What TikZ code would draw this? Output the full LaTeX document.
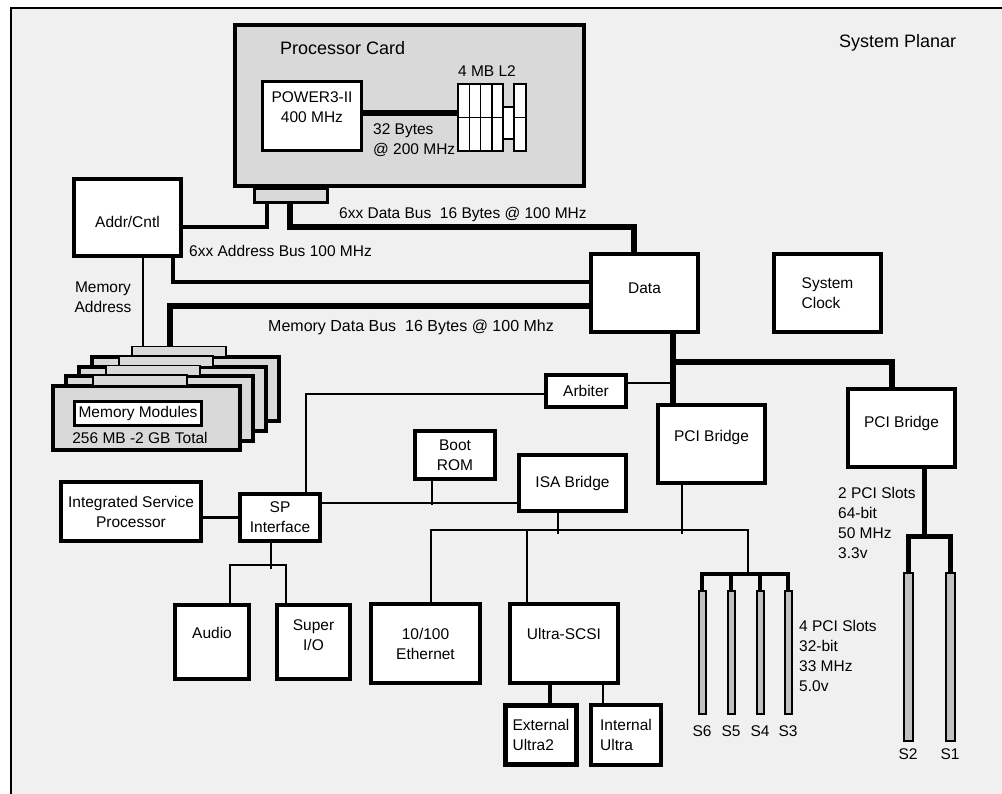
\documentclass[tikz,border=0pt]{standalone}
\usepackage{fontspec}
\setmainfont{Liberation Sans}

\definecolor{planarGray}{HTML}{F0F0F0}
\definecolor{cardGray}{HTML}{D9D9D9}
\definecolor{slotGray}{HTML}{C0C0C0}

\tikzstyle{unitBox}=[draw=black, line width=4pt, fill=white, align=center, inner sep=0pt]
\tikzstyle{labelText}=[inner sep=0pt, align=left]
\tikzstyle{thinBus}=[line width=2.5pt]
\tikzstyle{midBus}=[line width=3.5pt]
\tikzstyle{thickBus}=[line width=6.5pt]
\tikzstyle{slotBar}=[draw=black, line width=2pt, fill=slotGray, inner sep=0pt]
\tikzstyle{memBoardStyle}=[draw=black, line width=4pt, fill=cardGray, inner sep=0pt]
\tikzstyle{memTabStyle}=[draw=black, line width=1.5pt, fill=cardGray, inner sep=0pt]

\begin{document}
\begin{tikzpicture}[x=1pt, y=-1pt, font=\fontsize{15.5}{20}\selectfont]

	\useasboundingbox (0,0) rectangle (1002,794);
	\fill[white] (0,0) rectangle (1002,794);
	\draw[line width=2pt, fill=planarGray] (11,8) rectangle (1014,806);
	\node(planarLabel) at (839,43) [labelText, anchor=west, font=\fontsize{18}{20}\selectfont] {System Planar};

	% Prozessorkarte
	\node(card) at (409.5,105.5) [unitBox, fill=cardGray, minimum width=349pt, minimum height=161pt] {};
	\node(cardTab) at (291,195.5) [unitBox, line width=3pt, fill=cardGray, minimum width=73pt, minimum height=14pt] {};
	\node(cardTitle) at (280,48) [labelText, anchor=west, font=\fontsize{18}{20}\selectfont] {Processor Card};
	\node(cpu) at (312,116) [unitBox, line width=3pt, minimum width=99pt, minimum height=69pt,
		label={[yshift=8.5pt, align=center]center:POWER3-II\\400 MHz}] {};
	\node(l2) at (492,117.5) [inner sep=0pt, minimum width=68pt, minimum height=67pt] {};
	\node(l2Label) at (487,71) {4 MB L2};
	\begin{scope}[line width=1.5pt]
		\draw[fill=white] (458,84) rectangle (503,151);
		\foreach \cx in {469.25,480.5,491.75}
			\draw (\cx,84) -- (\cx,151);
		\draw (458,117.5) -- (503,117.5);
		\draw[fill=white] (503,107) rectangle (514,139);
		\draw[fill=white] (514,84) rectangle (526,151);
		\draw (514,117.5) -- (526,117.5);
	\end{scope}
	\draw[thickBus] ([yshift=3pt]cpu.east) -- ([yshift=4.5pt]l2.west);
	\node(l2BusLabel) at (373,140) [labelText, anchor=west] {32 Bytes\\@ 200 MHz};

	% Adressen und Daten
	\node(addr) at (127.5,217.5) [unitBox, minimum width=107pt, minimum height=77pt,
		label={[yshift=-4.5pt]center:Addr/Cntl}] {};
	\node(data) at (644.5,293) [unitBox, minimum width=107pt, minimum height=78pt,
		label={[yshift=5pt]center:Data}] {};
	\node(clock) at (827.5,293) [unitBox, align=left, minimum width=107pt, minimum height=78pt] {System\\Clock};

	\draw[midBus] ([yshift=-9.5pt]addr.east) -| ([xshift=-24pt]cardTab.south);
	\draw[thickBus] ([xshift=-1pt]cardTab.south) |- ++(344,23) -- ([xshift=-10.5pt]data.north);
	\draw[midBus] ([xshift=45.5pt]addr.south) |- ([yshift=11pt]data.west);
	\node(dataBusLabel) at (339,214) [labelText, anchor=west] {6xx Data Bus\ \ 16 Bytes @ 100 MHz};
	\node(addrBusLabel) at (189,251) [labelText, anchor=west] {6xx Address Bus 100 MHz};

	% Speichermodule
	\foreach \i in {3,2,1,0}
		{
			\node(memBoard\i) at (146.5+13*\i, 418-9.5*\i) [memBoardStyle, minimum width=187pt, minimum height=64pt] {};
			\node(memTab\i) at (140+13*\i, 380.5-9.5*\i) [memTabStyle, minimum width=94pt, minimum height=10.5pt] {};
		}
	\node(memLabel) at (138,413.5) [unitBox, line width=3pt, minimum width=127pt, minimum height=24pt] {Memory Modules};
	\node(memSize) at (140,438) {256 MB -2 GB Total};

	\draw[thinBus] ([xshift=15.5pt]addr.south) -- ([xshift=-36pt]memTab3.north);
	\draw[thickBus] ([yshift=-13pt]data.west) -| ([xshift=-9pt]memTab3.north);
	\node(memAddrLabel) at (103,297) [labelText, align=center] {Memory\\Address};
	\node(memBusLabel) at (268,327) [labelText, anchor=west, font=\fontsize{16}{20}\selectfont] {Memory Data Bus\ \ 16 Bytes @ 100 Mhz};

	% PCI
	\node(arbiter) at (586,391) [unitBox, minimum width=80pt, minimum height=32pt] {Arbiter};
	\node(pciA) at (711.5,444) [unitBox, minimum width=107pt, minimum height=78pt,
		label={[yshift=7pt]center:PCI Bridge}] {};
	\node(pciB) at (901.5,428) [unitBox, minimum width=107pt, minimum height=78pt,
		label={[yshift=5pt]center:PCI Bridge}] {};

	\draw[thickBus] ([xshift=28.5pt]data.south) -- ([xshift=-38.5pt]pciA.north);
	\draw[thickBus] ([xshift=28.5pt]data.south) ++(0,28) -| ([xshift=-9.5pt]pciB.north);
	\draw[thinBus] ([yshift=8pt]arbiter.east) -- ++(45,0);

	% Steckplaetze
	\foreach \s/\sx in {6/702,5/731,4/760,3/788}
		{
			\node(slot\s) at (\sx,652.5) [slotBar, minimum width=7pt, minimum height=123pt] {};
			\node(slotLabel\s) at (\sx,731) {S\s};
		}
	\foreach \s/\sx in {2/908,1/950}
		{
			\node(slot\s) at (\sx,657) [slotBar, minimum width=9pt, minimum height=168pt] {};
			\node(slotLabel\s) at (\sx,754) {S\s};
		}
	\draw[midBus] (slot6.north) -- ++(0,-16) -| (slot3.north);
	\foreach \s in {5,4}
		\draw[midBus] (slot\s.north) -- ++(0,-16);
	\draw[line width=5pt] ([xshift=22.5pt]pciB.south) -- ++(0,70);
	\draw[line width=5pt] (slot2.north) -- ++(0,-36) -| (slot1.north);
	\node(pciBSlots) at (838,523) [labelText, anchor=west] {2 PCI Slots\\64-bit\\50 MHz\\3.3v};
	\node(pciASlots) at (799,656) [labelText, anchor=west] {4 PCI Slots\\32-bit\\33 MHz\\5.0v};

	% ISA und Service Processor
	\node(boot) at (455,455) [unitBox, minimum width=80pt, minimum height=48pt] {Boot\\ROM};
	\node(isa) at (572.5,483) [unitBox, minimum width=107pt, minimum height=56pt] {ISA Bridge};
	\node(isp) at (131,511.5) [unitBox, minimum width=140pt, minimum height=59pt] {Integrated Service\\Processor};
	\node(sp) at (280,517.5) [unitBox, minimum width=80pt, minimum height=47pt] {SP\\Interface};
	\node(audio) at (212,642) [unitBox, minimum width=74pt, minimum height=74pt,
		label={[yshift=9pt]center:Audio}] {};
	\node(superio) at (313.5,642) [unitBox, minimum width=73pt, minimum height=74pt,
		label={[yshift=7pt, align=center]center:Super\\I/O}] {};
	\node(eth) at (425.5,643.5) [unitBox, minimum width=109pt, minimum height=79pt] {10/100\\Ethernet};
	\node(scsi) at (564,643.5) [unitBox, minimum width=108pt, minimum height=79pt,
		label={[yshift=10pt]center:Ultra-SCSI}] {};
	\node(ext) at (541,735) [unitBox, line width=5pt, align=left, minimum width=71pt, minimum height=59pt] {External\\Ultra2};
	\node(int) at (626,735) [unitBox, align=left, minimum width=70pt, minimum height=60pt] {Internal\\Ultra};

	\draw[thinBus] ([yshift=-3pt]arbiter.west) -| ([xshift=26pt]sp.north);
	\draw[thinBus] (sp.west) -- (sp.west -| isp.east);
	\draw[thinBus] ([yshift=14.5pt]sp.east) -- ([yshift=-20pt]isa.west);
	\draw[thinBus] ([xshift=-23pt]boot.south) -- ++(0,24);
	\draw[thinBus] ([xshift=-9pt]sp.south) -- ++(0,26);
	\draw[thinBus] ([xshift=18pt]audio.north) -- ++(0,-38) -| ([xshift=-27.5pt]superio.north);
	\draw[thinBus] ([xshift=-14.5pt]isa.south) -- ++(0,21);
	\draw[thinBus] ([xshift=5.5pt]eth.north) |- ++(317,-72) -- ++(0,43);
	\draw[thinBus] ([xshift=-37pt]scsi.north) -- ++(0,-73);
	\draw[thinBus] ([xshift=-29.5pt]pciA.south) -- ++(0,49);
	\draw[midBus] ([xshift=-14pt]scsi.south) -- ([xshift=9pt]ext.north);
	\draw[thinBus] ([xshift=39pt]scsi.south) -- ([xshift=-23pt]int.north);

\end{tikzpicture}
\end{document}
